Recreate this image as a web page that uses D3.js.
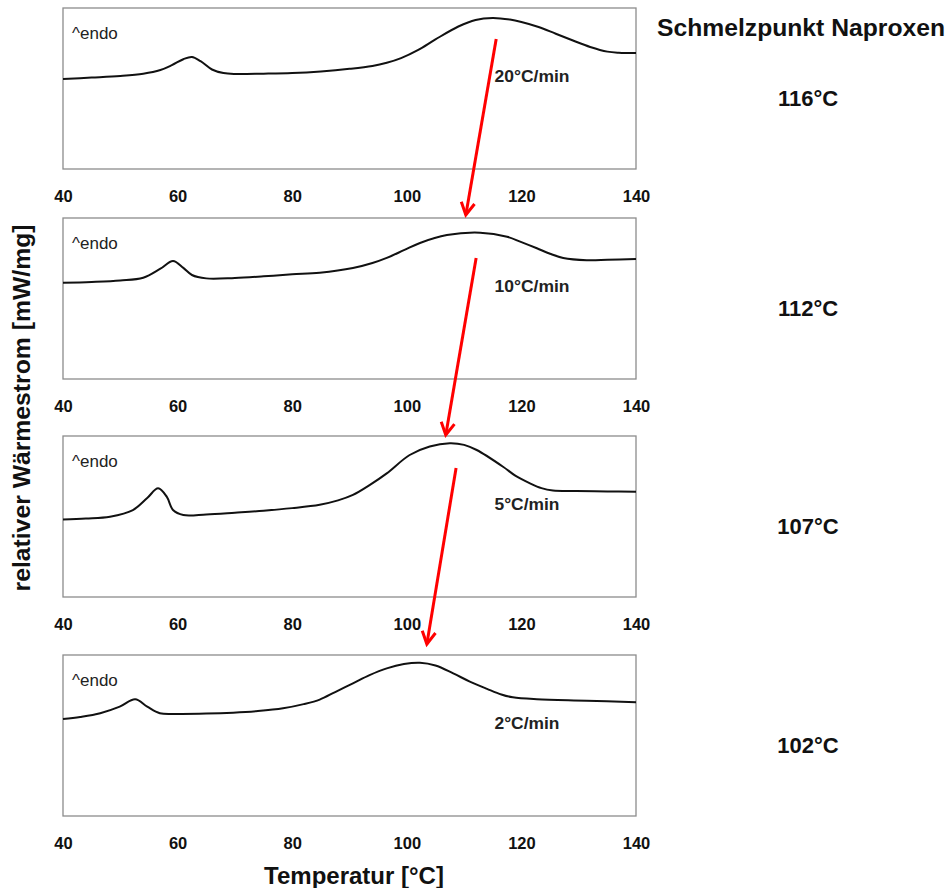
<!DOCTYPE html>
<html lang="de">
  <head>
    <meta charset="UTF-8" />
    <title>DSC Naproxen</title>
    <style>
      body { margin: 0; background: #fff; }
      text { font-family: "Liberation Sans", Arial, sans-serif; }
    </style>
  </head>
  <body>
    <svg id="svg" width="950" height="888"></svg>

    <script src="https://cdn.jsdelivr.net/npm/d3@7"></script>
    <script>
      const WIDTH = 950;
      const HEIGHT = 888;
      const PLOT_LEFT = 63;
      const PLOT_RIGHT = 636;
      const PANEL_TOPS = [8, 218, 436, 655];
      const PANEL_HEIGHT = 161;

      const X_TICKS = [40, 60, 80, 100, 120, 140];
      const RATES = ["20°C/min", "10°C/min", "5°C/min", "2°C/min"];
      const MELT_POINTS = ["116°C", "112°C", "107°C", "102°C"];

      // temperature (°C) and relative heat flow (0 = panel bottom, 100 = panel top)
      const curve20 = [
        [40, 55.9], [45, 56.8], [50, 57.8], [54, 59.2], [57, 61.5], [59, 64.5],
        [61, 68.2], [62.5, 69.6], [64, 67], [66, 61.8], [68, 59.6], [70, 59.0],
        [75, 59.2], [80, 59.6], [85, 60.6], [90, 62.2], [94, 64.0], [96.5, 66.0],
        [99, 68.9], [102, 74], [105, 80.5], [109, 88.5], [112, 92.6], [115, 93.8],
        [118, 92.8], [120, 91.3], [123, 88.2], [126, 84.0], [129, 79.8], [132, 75.8],
        [135, 72.9], [137, 72.2], [140, 72.0],
      ];
      const curve10 = [
        [40, 59.8], [45, 60.3], [50, 61.2], [54, 62.9], [57, 68.5], [59.2, 73.3],
        [61, 69], [62.5, 64.6], [65, 62.5], [70, 62.8], [75, 63.8], [80, 65.0],
        [84.8, 66.0], [90.6, 68.9], [94, 72.0], [96.5, 75.2], [99.5, 80.0],
        [102.3, 84.5], [107, 89.4], [112.8, 90.9], [117.5, 88.4], [120, 85.0],
        [122.7, 81.2], [125, 77.8], [127.3, 75.2], [131.4, 73.8], [135, 74.0], [140, 74.5],
      ];
      const curve5 = [
        [40, 48.2], [44, 48.8], [48.2, 49.9], [52.2, 54], [54.7, 61.5], [56.6, 67.5],
        [58.1, 62.3], [59.2, 54], [61, 50.9], [65, 51.3], [70, 52.4], [75, 53.6],
        [80, 55.2], [84.8, 57.3], [88, 60.0], [90.6, 63.4], [93.5, 69.5], [96.5, 76.8],
        [100.5, 88.2], [104, 93.5], [107.5, 95.5], [110, 94.5], [112.2, 91.3],
        [116.8, 80.9], [119, 75.2], [121.5, 70.6], [123.5, 67.6], [125.5, 66.1],
        [129.6, 65.8], [135, 65.6], [140, 65.4],
      ];
      const curve2 = [
        [40, 60.2], [43, 61.5], [46.5, 63.8], [49.9, 67.9], [52.6, 72.5],
        [54.7, 67.9], [56.9, 63.8], [59.9, 63.4], [65, 63.6], [69.7, 64.2],
        [74, 65.2], [78.4, 66.9], [82, 69.5], [84.8, 72.3], [87.5, 77.0],
        [90.6, 82.4], [93.5, 87.5], [96.5, 91.7], [99.5, 94.4], [102.3, 95.2],
        [105, 93.5], [108.1, 88.6], [111, 83.5], [114, 79.0], [116.5, 75.5],
        [118.5, 73.7], [122.7, 72.5], [131.4, 71.6], [140, 70.6],
      ];
      const CURVES = [curve20, curve10, curve5, curve2];

      // red arrows: from [temp, value] in panel i to [temp, value] in panel i+1
      const ARROWS = [
        { from: [115.6, 80.7], to: [110.3, 101.9] },
        { from: [112.1, 75.2], to: [106.8, 100.6] },
        { from: [108.6, 80.1], to: [103.5, 106.8] },
      ];

      const svg = d3.select("#svg");

      const xScale = d3
        .scaleLinear()
        .domain([40, 140])
        .range([PLOT_LEFT, PLOT_RIGHT]);

      function getYScale(i) {
        return d3
          .scaleLinear()
          .domain([0, 100])
          .range([PANEL_TOPS[i] + PANEL_HEIGHT, PANEL_TOPS[i]]);
      }

      const yScales = PANEL_TOPS.map((t, i) => getYScale(i));

      CURVES.forEach((data, i) => {
        const yScale = yScales[i];
        const g = svg.append("g");

        // frame
        g.append("rect")
          .attr("x", PLOT_LEFT)
          .attr("y", PANEL_TOPS[i])
          .attr("width", PLOT_RIGHT - PLOT_LEFT)
          .attr("height", PANEL_HEIGHT)
          .attr("fill", "none")
          .attr("stroke", "#8c8c8c")
          .attr("stroke-width", 1.3);

        // tick labels
        const axis = d3
          .axisBottom(xScale)
          .tickValues(X_TICKS)
          .tickSize(0)
          .tickPadding(0);
        const ax = g
          .append("g")
          .attr("transform", `translate(0, ${PANEL_TOPS[i] + PANEL_HEIGHT + 21})`)
          .call(axis);
        ax.select(".domain").remove();
        ax.selectAll("text")
          .attr("font-size", 16.5)
          .attr("font-weight", "bold")
          .attr("fill", "#111")
          .style("font-family", "Liberation Sans, Arial, sans-serif");

        const line = d3
          .line()
          .x((d) => xScale(d[0]))
          .y((d) => yScale(d[1]))
          .curve(d3.curveCatmullRom.alpha(0.5));

        g.append("path")
          .attr("d", line(data))
          .attr("fill", "none")
          .attr("stroke", "#111")
          .attr("stroke-width", 2);

        g.append("text")
          .attr("x", PLOT_LEFT + 9)
          .attr("y", PANEL_TOPS[i] + 31)
          .attr("font-size", 17)
          .attr("fill", "#222")
          .text("^endo");

        g.append("text")
          .attr("x", xScale(115.3))
          .attr("y", PANEL_TOPS[i] + 74)
          .attr("font-size", 17)
          .attr("font-weight", "bold")
          .attr("fill", "#222")
          .attr("textLength", 75)
          .attr("lengthAdjust", "spacingAndGlyphs")
          .text(RATES[i]);

        g.append("text")
          .attr("x", 808)
          .attr("y", PANEL_TOPS[i] + 98)
          .attr("text-anchor", "middle")
          .attr("font-size", 22)
          .attr("font-weight", "bold")
          .attr("fill", "#111")
          .text(MELT_POINTS[i]);
      });

      // fix rate label widths for the shorter strings
      svg.selectAll("text")
        .filter(function () { return /^\d°C\/min$/.test(this.textContent); })
        .attr("textLength", 65);

      // arrows
      ARROWS.forEach((a, i) => {
        const x1 = xScale(a.from[0]);
        const y1 = yScales[i](a.from[1]);
        const x2 = xScale(a.to[0]);
        const y2 = yScales[i + 1](a.to[1]);
        const ang = Math.atan2(y2 - y1, x2 - x1);
        const len = 14;
        const spread = 0.5;
        svg.append("line")
          .attr("x1", x1).attr("y1", y1)
          .attr("x2", x2).attr("y2", y2)
          .attr("stroke", "#ff0000")
          .attr("stroke-width", 3);
        const hx1 = x2 - len * Math.cos(ang - spread);
        const hy1 = y2 - len * Math.sin(ang - spread);
        const hx2 = x2 - len * Math.cos(ang + spread);
        const hy2 = y2 - len * Math.sin(ang + spread);
        svg.append("path")
          .attr("d", `M${hx1},${hy1} L${x2},${y2} L${hx2},${hy2}`)
          .attr("fill", "none")
          .attr("stroke", "#ff0000")
          .attr("stroke-width", 3)
          .attr("stroke-linejoin", "miter");
      });

      // titles
      svg.append("text")
        .attr("x", 801)
        .attr("y", 36)
        .attr("text-anchor", "middle")
        .attr("font-size", 23)
        .attr("font-weight", "bold")
        .attr("fill", "#111")
        .attr("textLength", 288)
        .attr("lengthAdjust", "spacingAndGlyphs")
        .text("Schmelzpunkt Naproxen");

      svg.append("text")
        .attr("transform", "translate(30, 408) rotate(-90)")
        .attr("text-anchor", "middle")
        .attr("font-size", 23)
        .attr("font-weight", "bold")
        .attr("fill", "#111")
        .attr("textLength", 367)
        .attr("lengthAdjust", "spacingAndGlyphs")
        .text("relativer Wärmestrom [mW/mg]");

      svg.append("text")
        .attr("x", 354)
        .attr("y", 884)
        .attr("text-anchor", "middle")
        .attr("font-size", 24)
        .attr("font-weight", "bold")
        .attr("fill", "#111")
        .text("Temperatur [°C]");
    </script>
  </body>
</html>
